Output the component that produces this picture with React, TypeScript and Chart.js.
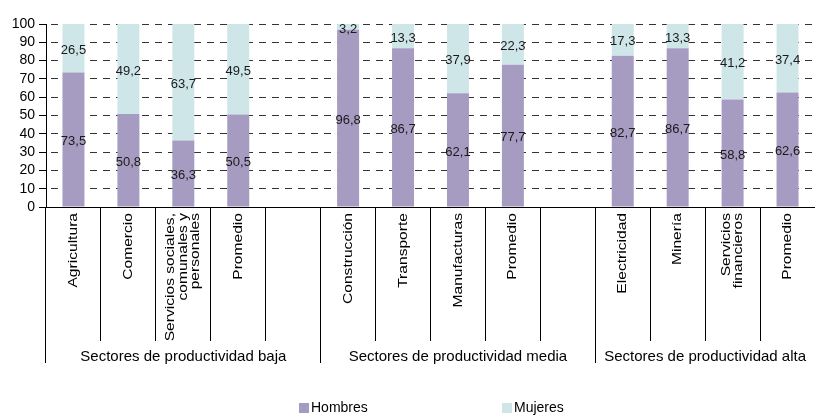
import React, { useEffect, useRef } from "react";
import { Chart, registerables } from "chart.js";

Chart.register(...registerables);

const categoryLines: string[][] = [
  ["Agricultura"],
  ["Comercio"],
  ["Servicios sociales,", "comunales y", "personales"],
  ["Promedio"],
  [""],
  ["Construcción"],
  ["Transporte"],
  ["Manufacturas"],
  ["Promedio"],
  [""],
  ["Electricidad"],
  ["Minería"],
  ["Servicios", "financieros"],
  ["Promedio"],
];

const hombres: (number | null)[] = [73.5, 50.8, 36.3, 50.5, null, 96.8, 86.7, 62.1, 77.7, null, 82.7, 86.7, 58.8, 62.6];
const mujeres: (number | null)[] = [26.5, 49.2, 63.7, 49.5, null, 3.2, 13.3, 37.9, 22.3, null, 17.3, 13.3, 41.2, 37.4];

const yTicks: number[] = [0, 10, 20, 30, 40, 50, 60, 70, 80, 90, 100];

const groupLabels: string[] = [
  "Sectores de productividad baja",
  "Sectores de productividad media",
  "Sectores de productividad alta",
];
const groupStarts: number[] = [0, 5, 10];
const groupEnds: number[] = [5, 10, 14];

const seriesNames = ["Hombres", "Mujeres"];
const seriesColors = ["#A69BC0", "#CFE6E9"];

const FONT = "'Liberation Sans', Arial, Helvetica, sans-serif";

const overlayPlugin = {
  id: "overlay",
  beforeDatasetsDraw(chart: any) {
    const ctx = chart.ctx as CanvasRenderingContext2D;
    const y = chart.scales.y;
    const area = chart.chartArea;
    ctx.save();
    ctx.strokeStyle = "#333";
    ctx.lineWidth = 1;
    ctx.setLineDash([7, 6]);
    ctx.lineDashOffset = -4;
    yTicks.forEach((t) => {
      if (t === 0) return;
      const py = Math.round(y.getPixelForValue(t) - 0.5) + 0.5;
      ctx.beginPath();
      ctx.moveTo(area.left + 1, py);
      ctx.lineTo(chart.width, py);
      ctx.stroke();
    });
    ctx.restore();
  },
  afterDatasetsDraw(chart: any) {
    const ctx = chart.ctx as CanvasRenderingContext2D;
    ctx.save();
    ctx.font = `13px ${FONT}`;
    ctx.fillStyle = "#1a1a1a";
    ctx.textAlign = "center";
    ctx.textBaseline = "middle";
    chart.data.datasets.forEach((ds: any, di: number) => {
      const meta = chart.getDatasetMeta(di);
      meta.data.forEach((el: any, i: number) => {
        const v = ds.data[i];
        if (v === null || v === undefined) return;
        const yc = (el.y + el.base) / 2;
        ctx.fillText(String(v).replace(".", ","), el.x, yc + 2);
      });
    });
    ctx.restore();
  },
  afterDraw(chart: any) {
    const ctx = chart.ctx as CanvasRenderingContext2D;
    const x = chart.scales.x;
    const area = chart.chartArea;
    const n = categoryLines.length;
    const w = x.getPixelForValue(1) - x.getPixelForValue(0);
    const boundary = (b: number) => x.getPixelForValue(b) - w / 2;
    const axisY = area.bottom;

    ctx.save();
    ctx.strokeStyle = "#000";
    ctx.lineWidth = 1;
    for (let b = 0; b <= n; b++) {
      const isGroup = groupStarts.includes(b) || b === n;
      const px = Math.round(boundary(b) - 0.5) + 0.5;
      ctx.beginPath();
      ctx.moveTo(px, axisY);
      ctx.lineTo(px, isGroup ? 363 : 341);
      ctx.stroke();
    }

    // category labels (rotated, stretched along the text direction)
    ctx.font = `13px ${FONT}`;
    ctx.fillStyle = "#000";
    ctx.textAlign = "right";
    ctx.textBaseline = "middle";
    const lh = 12.5;
    categoryLines.forEach((lines, i) => {
      const cx = x.getPixelForValue(i);
      lines.forEach((line, li) => {
        if (!line) return;
        const off = (li - (lines.length - 1) / 2) * lh;
        ctx.save();
        ctx.translate(cx + off, axisY + 6);
        ctx.rotate(-Math.PI / 2);
        ctx.scale(1.2, 1);
        ctx.fillText(line, 0, 0);
        ctx.restore();
      });
    });

    // group labels
    ctx.font = `15px ${FONT}`;
    ctx.textAlign = "center";
    ctx.textBaseline = "middle";
    groupLabels.forEach((g, gi) => {
      const x0 = boundary(groupStarts[gi]);
      const x1 = boundary(groupEnds[gi]);
      ctx.fillText(g, (x0 + x1) / 2, 357);
    });

    // legend
    const legendX = [299, 502];
    ctx.font = `14px ${FONT}`;
    ctx.textAlign = "left";
    seriesNames.forEach((name, si) => {
      ctx.fillStyle = seriesColors[si];
      ctx.fillRect(legendX[si], 403, 10, 10);
      ctx.fillStyle = "#000";
      ctx.fillText(name, legendX[si] + 12, 408.5);
    });
    ctx.restore();
  },
};

export default function App() {
  const canvasRef = useRef<HTMLCanvasElement | null>(null);

  useEffect(() => {
    document.body.style.margin = "0";
    const canvas = canvasRef.current;
    if (!canvas) return;
    const chart = new Chart(canvas, {
      type: "bar",
      data: {
        labels: categoryLines.map((l) => l.join(" ")),
        datasets: [
          {
            label: seriesNames[0],
            data: hombres,
            backgroundColor: seriesColors[0],
            borderWidth: 0,
            barPercentage: 0.4,
            categoryPercentage: 1,
          },
          {
            label: seriesNames[1],
            data: mujeres,
            backgroundColor: seriesColors[1],
            borderWidth: 0,
            barPercentage: 0.4,
            categoryPercentage: 1,
          },
        ],
      },
      options: {
        responsive: false,
        animation: false,
        devicePixelRatio: 1,
        layout: { padding: { top: 24, right: -4, bottom: 0, left: 0 } },
        plugins: {
          legend: { display: false },
          tooltip: { enabled: false },
        },
        scales: {
          x: {
            stacked: true,
            ticks: { display: false },
            grid: { display: false },
            border: { display: true, color: "#000", width: 1 },
            afterFit: (scale: any) => {
              scale.height = 210;
            },
          },
          y: {
            stacked: true,
            min: 0,
            max: 100,
            afterBuildTicks: (scale: any) => {
              scale.ticks = yTicks.map((v) => ({ value: v }));
            },
            ticks: {
              autoSkip: false,
              padding: 4,
              color: "#000",
              font: { family: FONT, size: 14 },
            },
            grid: {
              drawOnChartArea: false,
              drawTicks: true,
              tickLength: 7,
              tickColor: "#000",
              color: "#000",
            },
            border: { display: true, color: "#000", width: 1 },
            afterFit: (scale: any) => {
              scale.width = 46;
            },
          },
        },
      } as any,
      plugins: [overlayPlugin],
    });
    return () => chart.destroy();
  }, []);

  return (
    <div style={{ width: 815, height: 417 }}>
      <canvas ref={canvasRef} width={815} height={417} style={{ display: "block", width: 815, height: 417 }} />
    </div>
  );
}
